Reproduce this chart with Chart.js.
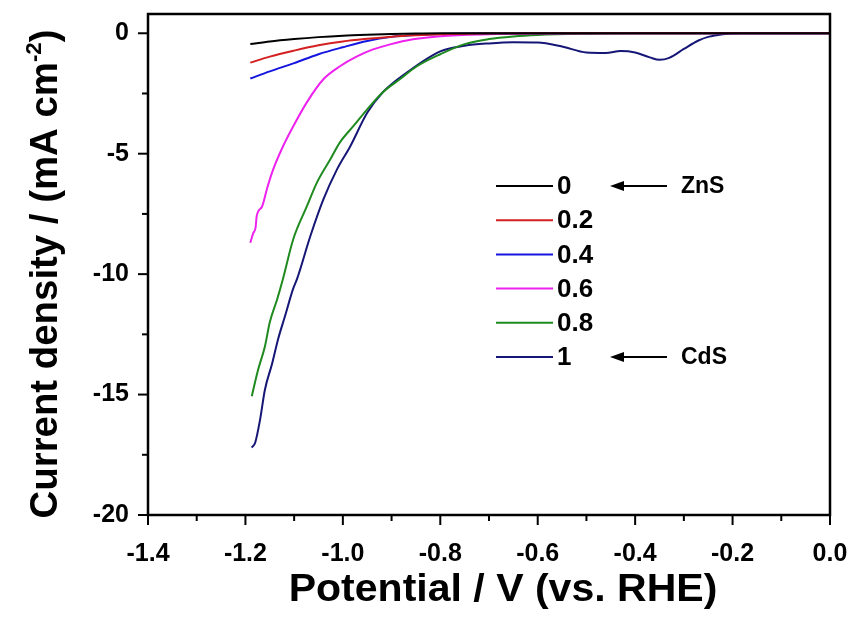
<!DOCTYPE html>
<html>
<head>
<meta charset="utf-8">
<script src="https://cdn.jsdelivr.net/npm/chart.js@4.4.0/dist/chart.umd.min.js"></script>
<style>
  html, body { margin: 0; padding: 0; background: #fff; }
  #wrap { width: 853px; height: 619px; }
</style>
</head>
<body>
<div id="wrap"><canvas id="lsv" width="853" height="619"></canvas></div>
<script>
// Zn(1-x)Cd(x)S linear sweep curves, [potential V vs RHE, current density mA cm-2]
const curve0 = [[-1.19,-0.45],[-1.15,-0.34],[-1.1,-0.24],[-1.05,-0.16],[-1.0,-0.1],[-0.95,-0.06],[-0.9,-0.03],[-0.85,-0.01],[-0.8,0],[0,0]];
const curve02 = [[-1.19,-1.22],[-1.15,-0.97],[-1.1,-0.72],[-1.05,-0.5],[-1.0,-0.34],[-0.95,-0.23],[-0.9,-0.14],[-0.85,-0.08],[-0.8,-0.04],[-0.7,-0.01],[-0.6,0],[0,0]];
const curve04 = [[-1.19,-1.88],[-1.15,-1.58],[-1.1,-1.24],[-1.05,-0.87],[-1.0,-0.58],[-0.95,-0.32],[-0.9,-0.15],[-0.85,-0.07],[-0.8,-0.03],[-0.7,-0.01],[-0.6,0],[0,0]];
const curve06 = [[-1.19,-8.7],[-1.184,-8.3],[-1.179,-8.05],[-1.177,-7.6],[-1.166,-7.2],[-1.155,-6.4],[-1.143,-5.65],[-1.123,-4.7],[-1.102,-3.87],[-1.074,-2.87],[-1.04,-1.91],[-1.006,-1.37],[-0.971,-0.96],[-0.938,-0.67],[-0.903,-0.46],[-0.856,-0.25],[-0.8,-0.12],[-0.7,-0.04],[-0.6,-0.01],[-0.5,0],[0,0]];
const curve08 = [[-1.187,-15.07],[-1.174,-13.97],[-1.16,-13.0],[-1.15,-12.0],[-1.135,-11.05],[-1.123,-10.2],[-1.102,-8.56],[-1.074,-7.19],[-1.053,-6.19],[-1.026,-5.24],[-1.006,-4.53],[-0.979,-3.87],[-0.95,-3.16],[-0.918,-2.45],[-0.883,-1.91],[-0.848,-1.37],[-0.8,-0.87],[-0.75,-0.45],[-0.7,-0.24],[-0.65,-0.13],[-0.6,-0.07],[-0.5,-0.02],[-0.4,0],[0,0]];
const curve1 = [[-1.187,-17.2],[-1.18,-17.0],[-1.17,-16.05],[-1.16,-14.8],[-1.145,-13.7],[-1.133,-12.7],[-1.119,-11.76],[-1.102,-10.6],[-1.094,-10.2],[-1.067,-8.44],[-1.04,-6.9],[-1.012,-5.65],[-0.985,-4.7],[-0.95,-3.3],[-0.918,-2.45],[-0.868,-1.62],[-0.8,-0.75],[-0.75,-0.52],[-0.7,-0.42],[-0.65,-0.37],[-0.6,-0.38],[-0.55,-0.55],[-0.5,-0.8],[-0.46,-0.82],[-0.43,-0.74],[-0.4,-0.8],[-0.37,-1.0],[-0.35,-1.1],[-0.33,-1.02],[-0.3,-0.65],[-0.27,-0.3],[-0.25,-0.15],[-0.22,-0.04],[-0.18,0],[0,0]];

const seriesLabels = ['0', '0.2', '0.4', '0.6', '0.8', '1'];
const seriesColors = ['#000000', '#d42020', '#1515e0', '#ee22ee', '#1f8a1f', '#161677'];
const seriesNotes = ['ZnS', '', '', '', '', 'CdS'];
const xTickValues = [-1.4, -1.2, -1.0, -0.8, -0.6, -0.4, -0.2, 0.0];
const yTickValues = [0, -5, -10, -15, -20];
const xTitle = 'Potential / V (vs. RHE)';
const yTitle = ['Current density / (mA cm', '-2', ')'];

const FONT = '"Liberation Sans", Arial, sans-serif';
const curves = [curve0, curve02, curve04, curve06, curve08, curve1];

// frame, tick marks, in-plot legend and axis titles
const decor = {
  id: 'decor',
  afterDraw(chart) {
    const { ctx, chartArea: a, scales: { x, y } } = chart;
    ctx.save();
    ctx.strokeStyle = '#000';
    ctx.fillStyle = '#000';

    ctx.lineWidth = 2;
    xTickValues.forEach((v, i) => {
      const px = x.getPixelForValue(v);
      ctx.beginPath(); ctx.moveTo(px, a.bottom); ctx.lineTo(px, a.bottom + 10); ctx.stroke();
      if (i < xTickValues.length - 1) {
        const mx = x.getPixelForValue((v + xTickValues[i + 1]) / 2);
        ctx.beginPath(); ctx.moveTo(mx, a.bottom); ctx.lineTo(mx, a.bottom + 6); ctx.stroke();
      }
    });
    yTickValues.forEach((v, i) => {
      const py = y.getPixelForValue(v);
      ctx.beginPath(); ctx.moveTo(a.left, py); ctx.lineTo(a.left - 10, py); ctx.stroke();
      if (i < yTickValues.length - 1) {
        const my = y.getPixelForValue((v + yTickValues[i + 1]) / 2);
        ctx.beginPath(); ctx.moveTo(a.left, my); ctx.lineTo(a.left - 6, my); ctx.stroke();
      }
    });

    ctx.lineWidth = 2.5;
    ctx.strokeRect(a.left, a.top, a.right - a.left, a.bottom - a.top);

    // legend
    ctx.textBaseline = 'middle';
    ctx.textAlign = 'left';
    seriesLabels.forEach((lab, i) => {
      const ly = 186 + i * 34.2;
      ctx.strokeStyle = seriesColors[i];
      ctx.lineWidth = 2;
      ctx.beginPath(); ctx.moveTo(496, ly); ctx.lineTo(553, ly); ctx.stroke();
      ctx.fillStyle = '#000';
      ctx.font = 'bold 26px ' + FONT;
      ctx.fillText(lab, 557, ly + 1);
      if (seriesNotes[i]) {
        ctx.strokeStyle = '#000';
        ctx.lineWidth = 2;
        ctx.beginPath(); ctx.moveTo(620, ly); ctx.lineTo(667, ly); ctx.stroke();
        ctx.beginPath(); ctx.moveTo(610, ly); ctx.lineTo(624, ly - 5); ctx.lineTo(624, ly + 5); ctx.closePath(); ctx.fill();
        ctx.font = 'bold 23px ' + FONT;
        ctx.fillText(seriesNotes[i], 681, ly + 1);
      }
    });

    // x title, slightly widened like the original artwork
    ctx.font = 'bold 38px ' + FONT;
    ctx.textAlign = 'center';
    ctx.textBaseline = 'alphabetic';
    ctx.save();
    ctx.translate(503, 601);
    ctx.scale(1.08, 1);
    ctx.fillText(xTitle, 0, 0);
    ctx.restore();

    // y title with superscript
    ctx.translate(57, 274);
    ctx.rotate(-Math.PI / 2);
    ctx.scale(1.01, 1);
    ctx.textAlign = 'left';
    const big = 'bold 38px ' + FONT, small = 'bold 22px ' + FONT;
    ctx.font = big; const w1 = ctx.measureText(yTitle[0]).width; const w3 = ctx.measureText(yTitle[2]).width;
    ctx.font = small; const w2 = ctx.measureText(yTitle[1]).width;
    let sx = -(w1 + w2 + w3) / 2;
    ctx.font = big; ctx.fillText(yTitle[0], sx, 0); sx += w1;
    ctx.font = small; ctx.fillText(yTitle[1], sx, -16); sx += w2;
    ctx.font = big; ctx.fillText(yTitle[2], sx, 0);
    ctx.restore();
  }
};

const chart = new Chart(document.getElementById('lsv'), {
  type: 'line',
  data: {
    datasets: curves.map((c, i) => ({
      label: seriesLabels[i],
      data: c.map(p => ({ x: p[0], y: p[1] })),
      borderColor: seriesColors[i],
      borderWidth: 2,
      pointRadius: 0,
      fill: false,
      cubicInterpolationMode: 'monotone'
    }))
  },
  options: {
    responsive: false,
    animation: false,
    layout: { padding: { top: 14, right: 23, left: 0, bottom: 0 } },
    plugins: { legend: { display: false }, tooltip: { enabled: false } },
    scales: {
      x: {
        type: 'linear',
        min: -1.4,
        max: 0,
        afterBuildTicks: s => { s.ticks = xTickValues.map(v => ({ value: v })); },
        afterFit: s => { s.height = 104; s.paddingLeft = 0; s.paddingRight = 0; },
        grid: { display: false, drawTicks: false },
        border: { display: false },
        ticks: {
          padding: 24,
          color: '#000',
          font: { family: FONT, size: 25, weight: 'bold' },
          callback: v => v.toFixed(1)
        }
      },
      y: {
        type: 'linear',
        min: -20,
        max: 0.8,
        afterBuildTicks: s => { s.ticks = yTickValues.map(v => ({ value: v })); },
        afterFit: s => { s.width = 148; s.paddingTop = 0; s.paddingBottom = 0; },
        grid: { display: false, drawTicks: false },
        border: { display: false },
        ticks: {
          padding: 19,
          color: '#000',
          font: { family: FONT, size: 25, weight: 'bold' },
          callback: v => String(v)
        }
      }
    }
  },
  plugins: [decor]
});
</script>
</body>
</html>
